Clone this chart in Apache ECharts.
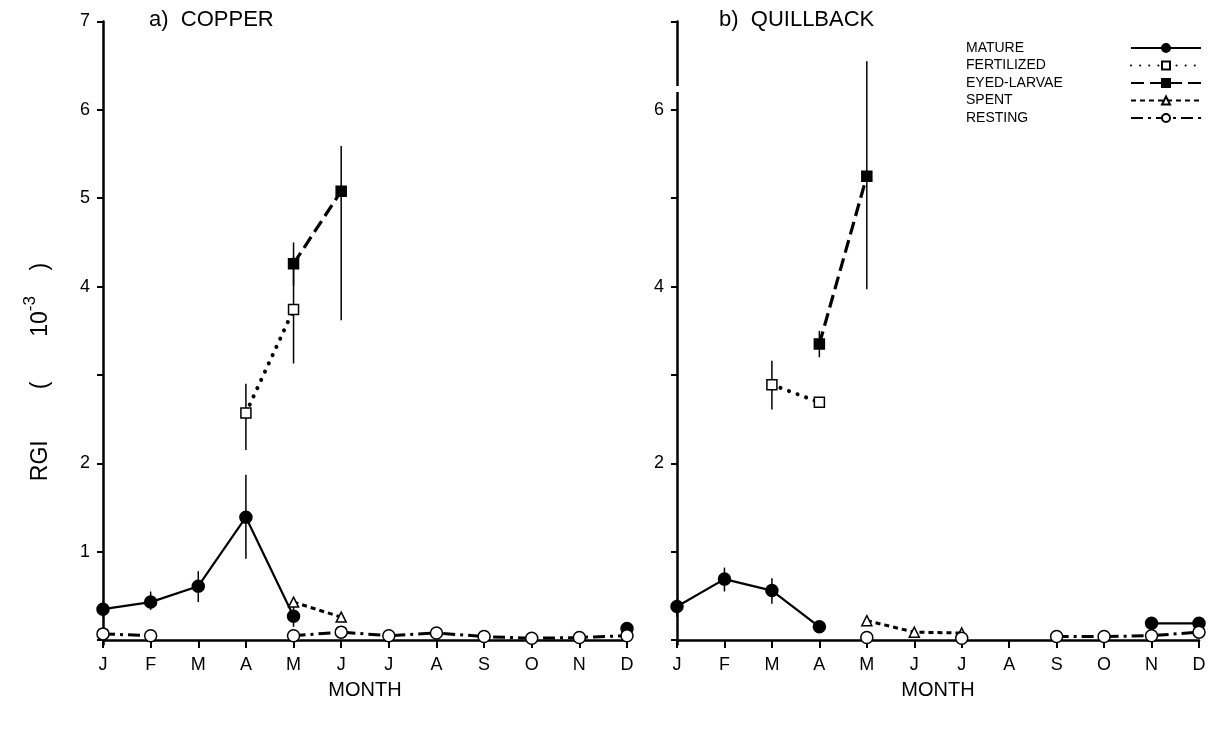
<!DOCTYPE html>
<html>
<head>
<meta charset="utf-8">
<script src="https://cdn.jsdelivr.net/npm/echarts@6/dist/echarts.min.js"></script>
<style>
html,body{margin:0;padding:0;background:#fff;}
#chart{width:1219px;height:731px;}
</style>
</head>
<body>
<div id="chart"></div>
<script>
// ---- data ----
const months = ['J','F','M','A','M','J','J','A','S','O','N','D'];
const yTicks = [0,1,2,3,4,5,6,7];
const copperYLabels = [1,2,4,5,6,7];
const quillYLabels = [2,4,6];
const stages = ['MATURE','FERTILIZED','EYED-LARVAE','SPENT','RESTING'];

// a) COPPER
const copperMature     = [0.35,0.43,0.61,1.39,0.27,null,null,null,null,null,null,0.13];
const copperFertilized = [null,null,null,2.57,3.74,null,null,null,null,null,null,null];
const copperEyed       = [null,null,null,null,4.26,5.08,null,null,null,null,null,null];
const copperSpent      = [null,null,null,null,0.43,0.26,null,null,null,null,null,null];
const copperResting    = [0.07,0.05,null,null,0.05,0.09,0.05,0.08,0.04,0.02,0.03,0.05];
const copperMatureErr     = [[0.26,0.44],[0.34,0.55],[0.43,0.78],[0.92,1.87],[0.15,0.38],null,null,null,null,null,null,null];
const copperFertilizedErr = [null,null,null,[2.15,2.90],[3.13,4.34],null,null,null,null,null,null,null];
const copperEyedErr       = [null,null,null,null,[4.01,4.50],[3.62,5.59],null,null,null,null,null,null];

// b) QUILLBACK
const quillMature     = [0.38,0.69,0.56,0.15,null,null,null,null,null,null,0.19,0.19];
const quillFertilized = [null,null,2.89,2.69,null,null,null,null,null,null,null,null];
const quillEyed       = [null,null,null,3.35,5.25,null,null,null,null,null,null,null];
const quillSpent      = [null,null,null,null,0.22,0.09,0.08,null,null,null,null,null];
const quillResting    = [null,null,null,null,0.03,null,0.02,null,0.04,0.04,0.05,0.09];
const quillMatureErr     = [[0.26,0.47],[0.55,0.82],[0.41,0.70],null,null,null,null,null,null,null,null,null];
const quillFertilizedErr = [null,null,[2.61,3.16],null,null,null,null,null,null,null,null,null];
const quillEyedErr       = [null,null,null,[3.20,3.50],[3.97,6.55],null,null,null,null,null,null,null];

// ---- styles ----
const FONT = '"Liberation Sans", Arial, sans-serif';
const stageStyle = {
  'MATURE':      {symbol:'circle', size:12, fill:'#000', line:{type:'solid', width:2.2}},
  'FERTILIZED':  {symbol:'rect', size:10, fill:'#fff', line:{type:[0.1,9], width:4, cap:'round'}},
  'EYED-LARVAE': {symbol:'rect', size:10, fill:'#000', line:{type:[13,6], width:3.2}},
  'SPENT':       {symbol:'triangle', size:10, fill:'#fff', line:{type:[5,4], width:3}},
  'RESTING':     {symbol:'circle', size:12, fill:'#fff', line:{type:[12,5,3,5], width:3}}
};

function toXY(arr){ return arr.map((v,i)=>[i, v==null ? '-' : v]); }
function lineSeries(name, arr, gi){
  const s = stageStyle[name];
  return {
    name, type:'line', xAxisIndex:gi, yAxisIndex:gi,
    data: toXY(arr), connectNulls:false,
    symbol: s.symbol, symbolSize: s.size, showSymbol:true,
    itemStyle:{color:s.fill, borderColor:'#000', borderWidth:1.5},
    lineStyle:{color:'#000', width:s.line.width, type:s.line.type, cap:s.line.cap||'butt'},
    z:3, animation:false
  };
}
function errSeries(errArr, gi){
  const data = [];
  errArr.forEach((e,i)=>{ if(e) data.push([i, e[0], e[1]]); });
  return {
    type:'custom', xAxisIndex:gi, yAxisIndex:gi, data,
    encode:{x:0, y:[1,2]}, z:2, silent:true, animation:false,
    renderItem(params, api){
      const p1 = api.coord([api.value(0), api.value(1)]);
      const p2 = api.coord([api.value(0), api.value(2)]);
      return {type:'line', shape:{x1:p1[0], y1:p1[1], x2:p2[0], y2:p2[1]},
              style:{stroke:'#000', lineWidth:1.5}};
    }
  };
}

function xAxisDef(gi){
  return {
    type:'value', gridIndex:gi, min:0, max:11, interval:1,
    name:'MONTH', nameLocation:'middle', nameGap:36,
    nameTextStyle:{fontFamily:FONT, fontSize:20, color:'#000'},
    axisLine:{lineStyle:{color:'#000', width:2.5}},
    axisTick:{show:true, length:8, inside:false, lineStyle:{color:'#000', width:2}},
    axisLabel:{fontFamily:FONT, fontSize:18, color:'#000', margin:12,
               formatter: v => months[v] || ''},
    splitLine:{show:false}
  };
}
function yAxisDef(gi, labels){
  return {
    type:'value', gridIndex:gi, min:-0.05, max:7,
    axisLine:{show:true, lineStyle:{color:'#000', width:2.5}},
    axisTick:{show:true, length:6, customValues:yTicks, lineStyle:{color:'#000', width:2}},
    axisLabel:{fontFamily:FONT, fontSize:18, color:'#000', margin:13, customValues:labels},
    splitLine:{show:false}
  };
}

const series = [];
const panels = [
  {gi:0, data:[copperMature,copperFertilized,copperEyed,copperSpent,copperResting],
   err:[copperMatureErr,copperFertilizedErr,copperEyedErr]},
  {gi:1, data:[quillMature,quillFertilized,quillEyed,quillSpent,quillResting],
   err:[quillMatureErr,quillFertilizedErr,quillEyedErr]}
];
panels.forEach(p=>{
  p.err.forEach(e=>series.push(errSeries(e, p.gi)));
  stages.forEach((name,k)=>series.push(lineSeries(name, p.data[k], p.gi)));
});

const option = {
  backgroundColor:'#fff',
  animation:false,
  grid:[
    {left:103, right:592, top:21.5, bottom:86.5},
    {left:677, right:20, top:21.5, bottom:86.5}
  ],
  xAxis:[xAxisDef(0), xAxisDef(1)],
  yAxis:[yAxisDef(0, copperYLabels), yAxisDef(1, quillYLabels)],
  legend:{
    data: stages, orient:'vertical', left:961, top:36, align:'right',
    itemWidth:70, itemHeight:10, itemGap:3.5,
    formatter: n => '{a|' + n + '}',
    textStyle:{fontFamily:FONT, fontSize:14, color:'#000',
      rich:{a:{fontFamily:FONT, fontSize:14, color:'#000', width:160, align:'left', lineHeight:14}}},
    selectedMode:false
  },
  graphic:[
    {type:'text', x:149, y:20, style:{text:'a)  COPPER', font:'22px '+FONT, fill:'#000', verticalAlign:'middle'}},
    {type:'text', x:719, y:20, style:{text:'b)  QUILLBACK', font:'22px '+FONT, fill:'#000', verticalAlign:'middle'}},
    {type:'text', x:37, y:372, rotation:Math.PI/2,
     style:{text:'{n|RGI        (       10}{s|-3}{n|    )}', align:'center', verticalAlign:'middle',
       rich:{
         n:{fontFamily:FONT, fontSize:23, fill:'#000', lineHeight:30, verticalAlign:'bottom'},
         s:{fontFamily:FONT, fontSize:17, fill:'#000', lineHeight:30, verticalAlign:'top'}
       }}},
    {type:'rect', shape:{x:670, y:86, width:14, height:6}, style:{fill:'#fff'}, z:100}
  ],
  series
};
const chart = echarts.init(document.getElementById('chart'), null, {renderer:'canvas'});
chart.setOption(option);
</script>
</body>
</html>
